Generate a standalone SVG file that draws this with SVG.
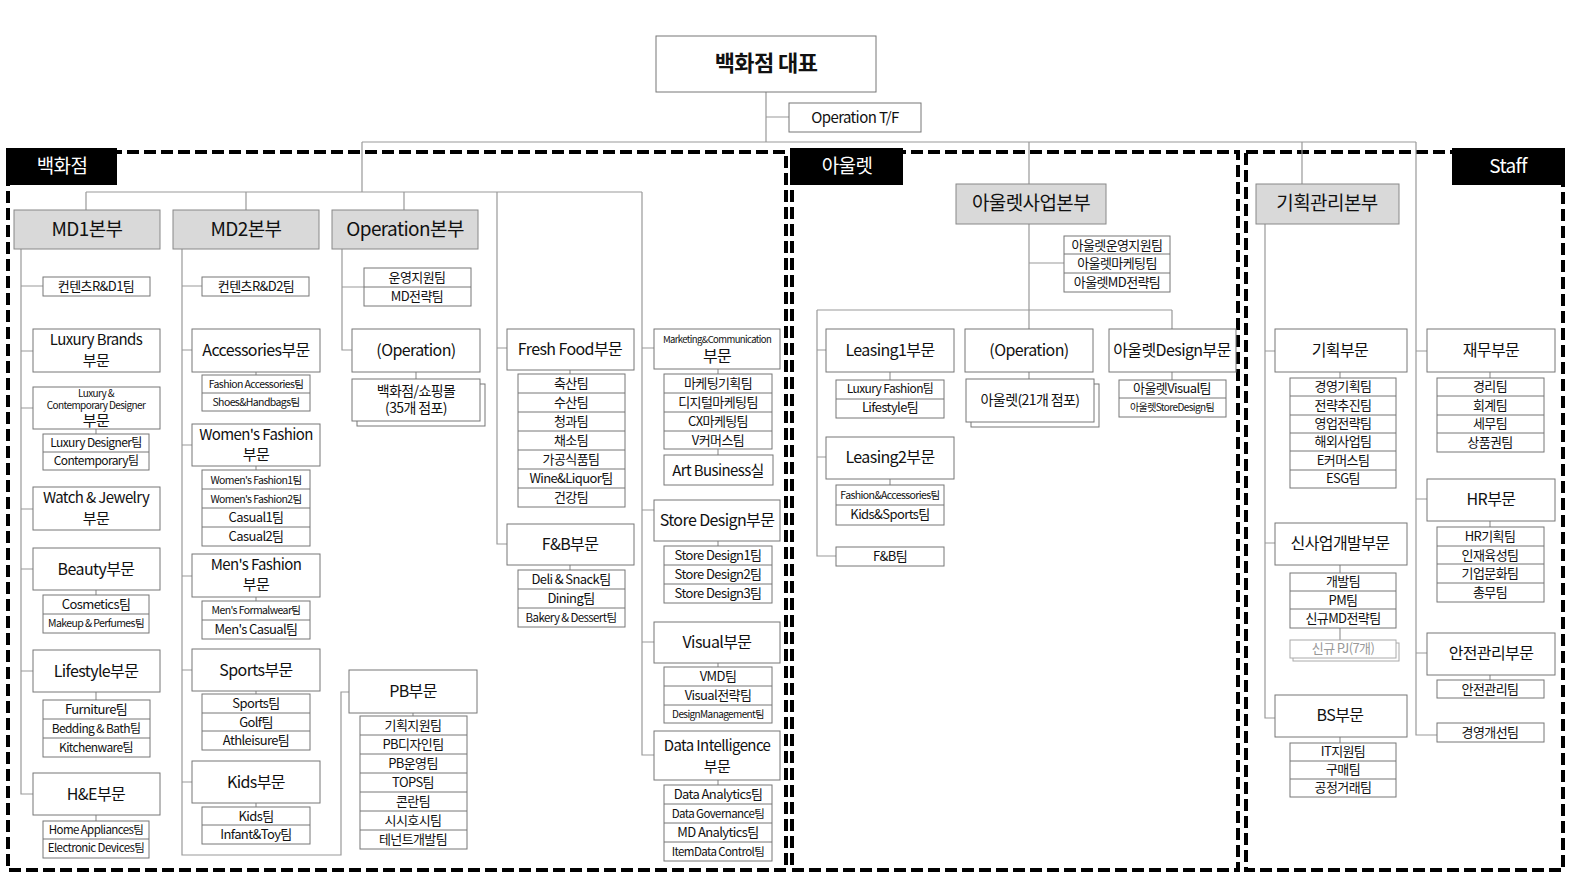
<svg xmlns="http://www.w3.org/2000/svg" width="1575" height="884" viewBox="0 0 1575 884">
<style>
text{font-family:"Noto Sans CJK KR","Noto Sans",sans-serif;text-anchor:middle;fill:#111;letter-spacing:-0.6px}
.b{fill:#fff;stroke:#777;stroke-width:1}
.g{fill:#d9d9d9;stroke:#888;stroke-width:1}
.s{stroke:#777;stroke-width:1;fill:none}
.l{stroke:#999;stroke-width:1.2;fill:none}
.f{fill:none;stroke:#000;stroke-width:4;stroke-dasharray:12 5}
.h{font-size:19px}
.m{font-size:16px}
.d{font-size:15px}
.t{font-size:13px}
.x{font-size:10.5px}
.tab{fill:#fff;font-size:19px}
</style>
<rect width="1575" height="884" fill="#fff"/>
<g id="frames">
<rect class="f" x="8" y="152" width="778" height="718"/>
<rect class="f" x="792" y="152" width="446" height="718"/>
<rect class="f" x="1246" y="152" width="317" height="718"/>
<rect x="6" y="148" width="111" height="37" fill="#000"/><text class="tab" x="62" y="173">백화점</text>
<rect x="790" y="148" width="113" height="37" fill="#000"/><text class="tab" x="847" y="173">아울렛</text>
<rect x="1452" y="148" width="113" height="37" fill="#000"/><text class="tab" x="1508" y="173">Staff</text>
</g>
<g id="connectors" class="l">
<path d="M766 92V142M766 117H789M362 142H1416M362 142V192M1029 142V310M1302 142V184M1416 142V735H1437"/>
<path d="M86 192H642M86 192V210M246 192V210M404 192V210M497 192V544H507M497 348H507M642 192V755H654M642 348H654M642 510H654M642 642H654"/>
<path d="M21 249V794H33M21 286H43M21 351H33M21 408H33M21 509H33M21 569H33M21 671H33"/>
<path d="M96 429V434M96 590V595M96 692V700M96 815V821"/>
<path d="M182 249V855H341V692H349M182 286H202M182 350H192M182 445H192M182 576H192M182 670H192M182 782H192"/>
<path d="M256 372V375M256 466V470M256 597V601M256 691V694M256 803V807M413 713V716"/>
<path d="M342 249V350H352M342 287H364M416 372V379"/>
<path d="M570 370V374M570 565V570M718 369V374M718 449V455M718 541V546M718 663V667M718 780V785"/>
<path d="M1029 263H1064M817 310H1172M817 310V556H836M817 350H826M817 457H826M1029 310V329M1172 310V329M890 372V380M890 479V485M1029 372V379M1172 372V380"/>
<path d="M1265 224V718H1275M1265 351H1275M1265 543H1275M1340 372V378M1340 565V573M1340 628V640M1340 737V743"/>
<path d="M1416 351H1427M1416 499H1427M1416 653H1427M1490 372V378M1490 521V527M1490 675V680"/>
</g>
<g id="n-root"><rect class="b" x="656" y="36" width="220" height="56"/><text x="766" y="71" style="font-size:22px;font-weight:bold">백화점 대표</text></g>
<g id="n-optf"><rect class="b" x="789" y="103" width="132" height="29"/><text class="t" x="855" y="123" style="font-size:15px">Operation T/F</text></g>

<g id="n-md1"><rect class="g" x="14" y="210" width="146" height="39"/><text class="h" x="87" y="236">MD1본부</text></g>
<g id="n-md2"><rect class="g" x="173" y="210" width="146" height="39"/><text class="h" x="246" y="236">MD2본부</text></g>
<g id="n-opb"><rect class="g" x="332" y="210" width="146" height="39"/><text class="h" x="405" y="236">Operation본부</text></g>

<g id="n-rd1"><rect class="b" x="43" y="277" width="107" height="19"/><text class="t" x="96" y="291">컨텐츠R&amp;D1팀</text></g>
<g id="n-lux"><rect class="b" x="33" y="329" width="127" height="43"/><text class="d" x="96" y="345">Luxury Brands</text><text class="d" x="96" y="366">부문</text></g>
<g id="n-lcd"><rect class="b" x="33" y="387" width="127" height="42"/><text class="x" x="96" y="397" style="font-size:10px">Luxury &amp;</text><text class="x" x="96" y="409" style="font-size:10px">Contemporary Designer</text><text class="d" x="96" y="426">부문</text></g>
<g id="n-lcd-t"><rect class="b" x="43" y="434" width="106" height="36"/><path class="s" d="M43 452H149"/><text class="t" x="96" y="447" style="font-size:12px">Luxury Designer팀</text><text class="t" x="96" y="465" style="font-size:12px">Contemporary팀</text></g>
<g id="n-wj"><rect class="b" x="33" y="487" width="127" height="43"/><text class="d" x="96" y="503">Watch &amp; Jewelry</text><text class="d" x="96" y="524">부문</text></g>
<g id="n-beauty"><rect class="b" x="33" y="548" width="127" height="42"/><text class="m" x="96" y="575">Beauty부문</text></g>
<g id="n-beauty-t"><rect class="b" x="43" y="595" width="106" height="38"/><path class="s" d="M43 614H149"/><text class="t" x="96" y="609">Cosmetics팀</text><text class="x" x="96" y="627">Makeup &amp; Perfumes팀</text></g>
<g id="n-life"><rect class="b" x="33" y="650" width="127" height="42"/><text class="m" x="96" y="677">Lifestyle부문</text></g>
<g id="n-life-t"><rect class="b" x="43" y="700" width="107" height="57"/><path class="s" d="M43 719H150M43 738H150"/><text class="t" x="96" y="714">Furniture팀</text><text class="t" x="96" y="733" style="font-size:12px">Bedding &amp; Bath팀</text><text class="t" x="96" y="752" style="font-size:12px">Kitchenware팀</text></g>
<g id="n-he"><rect class="b" x="33" y="773" width="127" height="42"/><text class="m" x="96" y="800">H&amp;E부문</text></g>
<g id="n-he-t"><rect class="b" x="43" y="821" width="106" height="37"/><path class="s" d="M43 839H149"/><text class="x" x="96" y="834" style="font-size:11.5px">Home Appliances팀</text><text class="x" x="96" y="852" style="font-size:11.5px">Electronic Devices팀</text></g>

<g id="n-rd2"><rect class="b" x="202" y="277" width="107" height="19"/><text class="t" x="256" y="291">컨텐츠R&amp;D2팀</text></g>
<g id="n-acc"><rect class="b" x="192" y="329" width="128" height="43"/><text class="m" x="256" y="356">Accessories부문</text></g>
<g id="n-acc-t"><rect class="b" x="202" y="375" width="108" height="36"/><path class="s" d="M202 393H310"/><text class="x" x="256" y="388">Fashion Accessories팀</text><text class="x" x="256" y="406">Shoes&amp;Handbags팀</text></g>
<g id="n-wf"><rect class="b" x="192" y="424" width="128" height="42"/><text class="d" x="256" y="440">Women's Fashion</text><text class="d" x="256" y="460">부문</text></g>
<g id="n-wf-t"><rect class="b" x="202" y="470" width="108" height="76"/><path class="s" d="M202 489H310M202 508H310M202 527H310"/><text class="x" x="256" y="484">Women's Fashion1팀</text><text class="x" x="256" y="503">Women's Fashion2팀</text><text class="t" x="256" y="522">Casual1팀</text><text class="t" x="256" y="541">Casual2팀</text></g>
<g id="n-mf"><rect class="b" x="192" y="554" width="128" height="43"/><text class="d" x="256" y="570">Men's Fashion</text><text class="d" x="256" y="590">부문</text></g>
<g id="n-mf-t"><rect class="b" x="202" y="601" width="108" height="38"/><path class="s" d="M202 620H310"/><text class="x" x="256" y="614">Men's Formalwear팀</text><text class="t" x="256" y="634">Men's Casual팀</text></g>
<g id="n-sp"><rect class="b" x="192" y="649" width="128" height="42"/><text class="m" x="256" y="676">Sports부문</text></g>
<g id="n-sp-t"><rect class="b" x="202" y="694" width="108" height="56"/><path class="s" d="M202 713H310M202 731H310"/><text class="t" x="256" y="708">Sports팀</text><text class="t" x="256" y="727">Golf팀</text><text class="t" x="256" y="745">Athleisure팀</text></g>
<g id="n-kids"><rect class="b" x="192" y="761" width="128" height="42"/><text class="m" x="256" y="788">Kids부문</text></g>
<g id="n-kids-t"><rect class="b" x="202" y="807" width="108" height="37"/><path class="s" d="M202 825H310"/><text class="t" x="256" y="821">Kids팀</text><text class="t" x="256" y="839">Infant&amp;Toy팀</text></g>
<g id="n-pb"><rect class="b" x="349" y="670" width="128" height="43"/><text class="m" x="413" y="697">PB부문</text></g>
<g id="n-pb-t"><rect class="b" x="360" y="716" width="107" height="133"/><path class="s" d="M360 735H467M360 754H467M360 773H467M360 792H467M360 811H467M360 830H467"/><text class="t" x="413" y="730">기획지원팀</text><text class="t" x="413" y="749">PB디자인팀</text><text class="t" x="413" y="768">PB운영팀</text><text class="t" x="413" y="787">TOPS팀</text><text class="t" x="413" y="806">콘란팀</text><text class="t" x="413" y="825">시시호시팀</text><text class="t" x="413" y="844">테넌트개발팀</text></g>

<g id="n-opsup"><rect class="b" x="364" y="268" width="107" height="38"/><path class="s" d="M364 287H471"/><text class="t" x="417" y="282">운영지원팀</text><text class="t" x="417" y="301">MD전략팀</text></g>
<g id="n-op"><rect class="b" x="352" y="329" width="128" height="43"/><text class="m" x="416" y="356">(Operation)</text></g>
<g id="n-op-s"><rect class="b" x="357" y="384" width="128" height="42"/><rect class="b" x="352" y="379" width="128" height="42"/><text class="t" x="416" y="396" style="font-size:14px">백화점/쇼핑몰</text><text class="t" x="416" y="413" style="font-size:14px">(35개 점포)</text></g>

<g id="n-ff"><rect class="b" x="507" y="329" width="127" height="41"/><text class="m" x="570" y="355">Fresh Food부문</text></g>
<g id="n-ff-t"><rect class="b" x="518" y="374" width="107" height="133"/><path class="s" d="M518 393H625M518 412H625M518 431H625M518 450H625M518 469H625M518 488H625"/><text class="t" x="571" y="388">축산팀</text><text class="t" x="571" y="407">수산팀</text><text class="t" x="571" y="426">청과팀</text><text class="t" x="571" y="445">채소팀</text><text class="t" x="571" y="464">가공식품팀</text><text class="t" x="571" y="483">Wine&amp;Liquor팀</text><text class="t" x="571" y="502">건강팀</text></g>
<g id="n-fb"><rect class="b" x="507" y="524" width="127" height="41"/><text class="m" x="570" y="550">F&amp;B부문</text></g>
<g id="n-fb-t"><rect class="b" x="518" y="570" width="107" height="57"/><path class="s" d="M518 589H625M518 608H625"/><text class="t" x="571" y="584">Deli &amp; Snack팀</text><text class="t" x="571" y="603">Dining팀</text><text class="x" x="571" y="622" style="font-size:11.5px">Bakery &amp; Dessert팀</text></g>

<g id="n-mc"><rect class="b" x="654" y="329" width="126" height="40"/><text class="x" x="717" y="343" style="font-size:9.5px">Marketing&amp;Communication</text><text class="m" x="717" y="362">부문</text></g>
<g id="n-mc-t"><rect class="b" x="664" y="374" width="108" height="75"/><path class="s" d="M664 393H772M664 412H772M664 431H772"/><text class="t" x="718" y="388">마케팅기획팀</text><text class="t" x="718" y="407">디지털마케팅팀</text><text class="t" x="718" y="426">CX마케팅팀</text><text class="t" x="718" y="445">V커머스팀</text></g>
<g id="n-art"><rect class="b" x="664" y="455" width="109" height="30"/><text class="d" x="718" y="476">Art Business실</text></g>
<g id="n-sd"><rect class="b" x="654" y="500" width="126" height="41"/><text class="m" x="717" y="526">Store Design부문</text></g>
<g id="n-sd-t"><rect class="b" x="664" y="546" width="108" height="57"/><path class="s" d="M664 565H772M664 584H772"/><text class="t" x="718" y="560">Store Design1팀</text><text class="t" x="718" y="579">Store Design2팀</text><text class="t" x="718" y="598">Store Design3팀</text></g>
<g id="n-vis"><rect class="b" x="654" y="622" width="126" height="41"/><text class="m" x="717" y="648">Visual부문</text></g>
<g id="n-vis-t"><rect class="b" x="664" y="667" width="108" height="56"/><path class="s" d="M664 686H772M664 705H772"/><text class="t" x="718" y="681">VMD팀</text><text class="t" x="718" y="700">Visual전략팀</text><text class="x" x="718" y="718" style="font-size:10px">DesignManagement팀</text></g>
<g id="n-di"><rect class="b" x="654" y="731" width="126" height="49"/><text class="d" x="717" y="751">Data Intelligence</text><text class="d" x="717" y="772">부문</text></g>
<g id="n-di-t"><rect class="b" x="664" y="785" width="108" height="76"/><path class="s" d="M664 804H772M664 823H772M664 842H772"/><text class="t" x="718" y="799">Data Analytics팀</text><text class="x" x="718" y="818" style="font-size:11.5px">Data Governance팀</text><text class="t" x="718" y="837">MD Analytics팀</text><text class="x" x="718" y="856" style="font-size:11.5px">ItemData Control팀</text></g>

<g id="n-outlet"><rect class="g" x="956" y="184" width="150" height="40"/><text class="h" x="1031" y="210">아울렛사업본부</text></g>
<g id="n-outlet-t"><rect class="b" x="1064" y="236" width="106" height="56"/><path class="s" d="M1064 254H1170M1064 273H1170"/><text class="t" x="1117" y="250">아울렛운영지원팀</text><text class="t" x="1117" y="268">아울렛마케팅팀</text><text class="t" x="1117" y="287">아울렛MD전략팀</text></g>
<g id="n-l1"><rect class="b" x="826" y="329" width="128" height="43"/><text class="m" x="890" y="356">Leasing1부문</text></g>
<g id="n-l1-t"><rect class="b" x="836" y="380" width="108" height="38"/><path class="s" d="M836 399H944"/><text class="t" x="890" y="393" style="font-size:12px">Luxury Fashion팀</text><text class="t" x="890" y="412">Lifestyle팀</text></g>
<g id="n-l2"><rect class="b" x="826" y="437" width="128" height="42"/><text class="m" x="890" y="463">Leasing2부문</text></g>
<g id="n-l2-t"><rect class="b" x="836" y="485" width="108" height="40"/><path class="s" d="M836 505H944"/><text class="x" x="890" y="499">Fashion&amp;Accessories팀</text><text class="t" x="890" y="519">Kids&amp;Sports팀</text></g>
<g id="n-ofb"><rect class="b" x="836" y="547" width="108" height="19"/><text class="t" x="890" y="561">F&amp;B팀</text></g>
<g id="n-oop"><rect class="b" x="965" y="329" width="128" height="43"/><text class="m" x="1029" y="356">(Operation)</text></g>
<g id="n-oop-s"><rect class="b" x="971" y="384" width="128" height="43"/><rect class="b" x="966" y="379" width="128" height="43"/><text class="t" x="1030" y="405" style="font-size:14px">아울렛(21개 점포)</text></g>
<g id="n-ods"><rect class="b" x="1109" y="329" width="127" height="43"/><text class="m" x="1172" y="356">아울렛Design부문</text></g>
<g id="n-ods-t"><rect class="b" x="1119" y="380" width="107" height="37"/><path class="s" d="M1119 398H1226"/><text class="t" x="1172" y="393">아울렛Visual팀</text><text class="x" x="1172" y="411" style="font-size:10px">아울렛StoreDesign팀</text></g>

<g id="n-plan"><rect class="g" x="1256" y="184" width="143" height="40"/><text class="h" x="1327" y="210">기획관리본부</text></g>
<g id="n-gh"><rect class="b" x="1275" y="329" width="132" height="43"/><text class="m" x="1340" y="356">기획부문</text></g>
<g id="n-gh-t"><rect class="b" x="1290" y="378" width="106" height="110"/><path class="s" d="M1290 396H1396M1290 415H1396M1290 433H1396M1290 451H1396M1290 470H1396"/><text class="t" x="1343" y="391">경영기획팀</text><text class="t" x="1343" y="410">전략추진팀</text><text class="t" x="1343" y="428">영업전략팀</text><text class="t" x="1343" y="446">해외사업팀</text><text class="t" x="1343" y="465">E커머스팀</text><text class="t" x="1343" y="483">ESG팀</text></g>
<g id="n-new"><rect class="b" x="1275" y="523" width="132" height="42"/><text class="m" x="1340" y="549">신사업개발부문</text></g>
<g id="n-new-t"><rect class="b" x="1290" y="573" width="106" height="55"/><path class="s" d="M1290 591H1396M1290 609H1396"/><text class="t" x="1343" y="586">개발팀</text><text class="t" x="1343" y="605">PM팀</text><text class="t" x="1343" y="623">신규MD전략팀</text></g>
<g id="n-pj"><rect x="1293" y="643" width="106" height="18" fill="#fff" stroke="#aaa"/><rect x="1290" y="640" width="106" height="18" fill="#fff" stroke="#aaa"/><text class="t" x="1343" y="653" style="fill:#999">신규 PJ(7개)</text></g>
<g id="n-bs"><rect class="b" x="1275" y="695" width="132" height="42"/><text class="m" x="1340" y="721">BS부문</text></g>
<g id="n-bs-t"><rect class="b" x="1290" y="743" width="106" height="54"/><path class="s" d="M1290 761H1396M1290 779H1396"/><text class="t" x="1343" y="756">IT지원팀</text><text class="t" x="1343" y="774">구매팀</text><text class="t" x="1343" y="792">공정거래팀</text></g>

<g id="n-fin"><rect class="b" x="1427" y="329" width="128" height="43"/><text class="m" x="1491" y="356">재무부문</text></g>
<g id="n-fin-t"><rect class="b" x="1437" y="378" width="107" height="74"/><path class="s" d="M1437 396H1544M1437 415H1544M1437 433H1544"/><text class="t" x="1490" y="391">경리팀</text><text class="t" x="1490" y="410">회계팀</text><text class="t" x="1490" y="428">세무팀</text><text class="t" x="1490" y="447">상품권팀</text></g>
<g id="n-hr"><rect class="b" x="1427" y="479" width="128" height="42"/><text class="m" x="1491" y="505">HR부문</text></g>
<g id="n-hr-t"><rect class="b" x="1437" y="527" width="107" height="75"/><path class="s" d="M1437 546H1544M1437 564H1544M1437 583H1544"/><text class="t" x="1490" y="541">HR기획팀</text><text class="t" x="1490" y="560">인재육성팀</text><text class="t" x="1490" y="578">기업문화팀</text><text class="t" x="1490" y="597">총무팀</text></g>
<g id="n-safe"><rect class="b" x="1427" y="633" width="128" height="42"/><text class="m" x="1491" y="659">안전관리부문</text></g>
<g id="n-safe-t"><rect class="b" x="1437" y="680" width="107" height="18"/><text class="t" x="1490" y="694">안전관리팀</text></g>
<g id="n-imp"><rect class="b" x="1437" y="723" width="107" height="19"/><text class="t" x="1490" y="737">경영개선팀</text></g>
</svg>
